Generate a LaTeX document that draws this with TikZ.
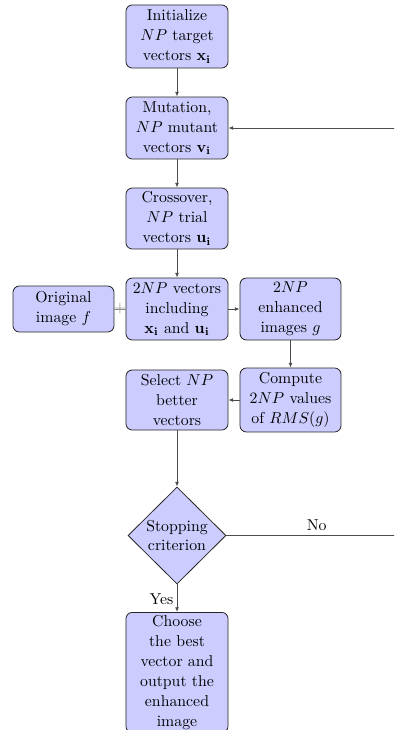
\documentclass[tikz,border=0pt]{standalone}
\usetikzlibrary{shapes.geometric,arrows.meta}
\begin{document}
\begin{tikzpicture}[x=0.633pt,y=-0.633pt,
  blk/.style={draw=black!85, fill=blue!20, rounded corners=4pt, line width=0.5pt,
    minimum width=64.6pt, text width=58pt, align=center, inner sep=1pt, font=\fontsize{10}{12.6}\selectfont},
  dec/.style={draw=black!85, fill=blue!20, diamond, line width=0.5pt, align=center,
    inner sep=0pt, minimum width=62pt, minimum height=61.4pt, aspect=1, font=\fontsize{10}{12.6}\selectfont},
  conn/.style={draw=black!70, line width=0.6pt, -{Latex[length=3pt,width=2.5pt]}},
  plain/.style={draw=black!70, line width=0.6pt}]
\useasboundingbox (0,0) rectangle (394,730);
\clip (0,0) rectangle (394,730);
\node[blk, minimum height=39.9pt] (init) at (177,36.5) {Initialize\\ $NP$ target\\ vectors $\mathbf{x_i}$};
\node[blk, minimum height=39.2pt] (mut) at (177,128) {Mutation,\\ $NP$ mutant\\ vectors $\mathbf{v_i}$};
\node[blk, minimum height=38.6pt] (cross) at (177,218.5) {Crossover,\\ $NP$ trial\\ vectors $\mathbf{u_i}$};
\node[blk, minimum height=39.2pt] (vecs) at (177,309) {$2NP$ vectors\\ including\\ $\mathbf{x_i}$ and $\mathbf{u_i}$};
\node[blk, minimum height=29.1pt, minimum width=63.9pt] (orig) at (63.5,309) {Original\\ image $f$};
\node[blk, minimum height=39.2pt, minimum width=63.9pt] (enh) at (290.5,309) {$2NP$\\ enhanced\\ images $g$};
\node[blk, minimum height=40.5pt, minimum width=63.9pt] (comp) at (290.5,400) {Compute\\ $2NP$ values\\ of $RMS(g)$};
\node[blk, minimum height=38pt] (sel) at (177,400) {Select $NP$\\ better\\ vectors};
\node[dec] (stop) at (177,535.5) {Stopping\\ criterion};
\node[blk, minimum height=10pt, inner ysep=2pt, anchor=north] (choose) at (177,612) {Choose\\ the best\\ vector and\\ output the\\ enhanced\\ image};
\coordinate (c1) at (400,535.5);
\coordinate (c2) at (400,128);
\draw[conn] (init) -- (mut);
\draw[conn] (mut) -- (cross);
\draw[conn] (cross) -- (vecs);
\draw[draw=black!45, line width=0.6pt] (orig) -- node[text=black!45, inner sep=0pt, font=\normalsize] {+} (vecs);
\draw[conn] (vecs) -- (enh);
\draw[conn] (enh) -- (comp);
\draw[conn] (comp) -- (sel);
\draw[conn] (sel) -- (stop);
\draw[conn] (stop) -- node[left, pos=0.55, inner sep=2pt] {Yes} (choose);
\draw[plain] (stop.east) -- node[above, pos=0.52, inner sep=3pt] {No} (c1) -- (c2);
\draw[conn] (c2) -- (mut.east);
\end{tikzpicture}
\end{document}
